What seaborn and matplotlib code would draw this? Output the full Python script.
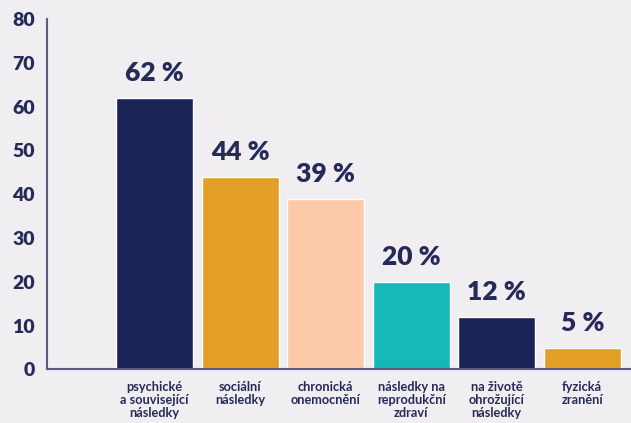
import matplotlib
matplotlib.use("Agg")
import matplotlib.pyplot as plt
import seaborn as sns
import pandas as pd

categories = [
    "psychické\na související\nnásledky",
    "sociální\nnásledky",
    "chronická\nonemocnění",
    "následky na\nreprodukční\nzdraví",
    "na životě\nohrožující\nnásledky",
    "fyzická\nzranění",
]
values = [62, 44, 39, 20, 12, 5]
bar_colors = ["#1b2356", "#e39f26", "#fccaa9", "#16b8b8", "#1b2356", "#e39f26"]
y_ticks = [0, 10, 20, 30, 40, 50, 60, 70, 80]

BG = "#f0eef0"
TEXT = "#262a58"
AXIS = "#5c5a86"

sns.set_theme(style="white")
plt.rcParams["font.family"] = ["Lato", "DejaVu Sans"]

df = pd.DataFrame({"kat": categories, "hodnota": values})

fig = plt.figure(figsize=(6.31, 4.23), dpi=100, facecolor=BG)
ax = fig.add_axes([0.0745, 0.1265, 0.9255, 0.8285])
ax.set_facecolor(BG)

sns.barplot(data=df, x="kat", y="hodnota", hue="kat", palette=bar_colors,
            legend=False, width=0.9, saturation=1, ax=ax, zorder=3)

ax.set_ylim(0, 80)
ax.set_xlim(-1.26, 5.57)
ax.set_yticks(y_ticks)
ax.set_yticklabels([str(t) for t in y_ticks], fontsize=14, fontweight="heavy", color=TEXT)
ax.tick_params(axis="y", direction="in", length=16, width=1.5, color=AXIS, pad=9)
ax.tick_params(axis="x", length=0, pad=8)
ax.set_xticks(range(len(categories)))
ax.set_xticklabels(categories, fontsize=9.2, fontweight="bold", color=TEXT,
                   linespacing=1.12, va="top")
ax.set_xlabel("")
ax.set_ylabel("")

for side in ["top", "right"]:
    ax.spines[side].set_visible(False)
for side in ["left", "bottom"]:
    ax.spines[side].set_color(AXIS)
    ax.spines[side].set_linewidth(1.5)
    ax.spines[side].set_zorder(4)

for i, v in enumerate(values):
    ax.annotate(f"{v} %", (i, v), xytext=(0, 9), textcoords="offset points",
                ha="center", va="bottom", fontsize=19, fontweight="heavy", color=TEXT)

fig.savefig("out.png", dpi=100, facecolor=BG)
